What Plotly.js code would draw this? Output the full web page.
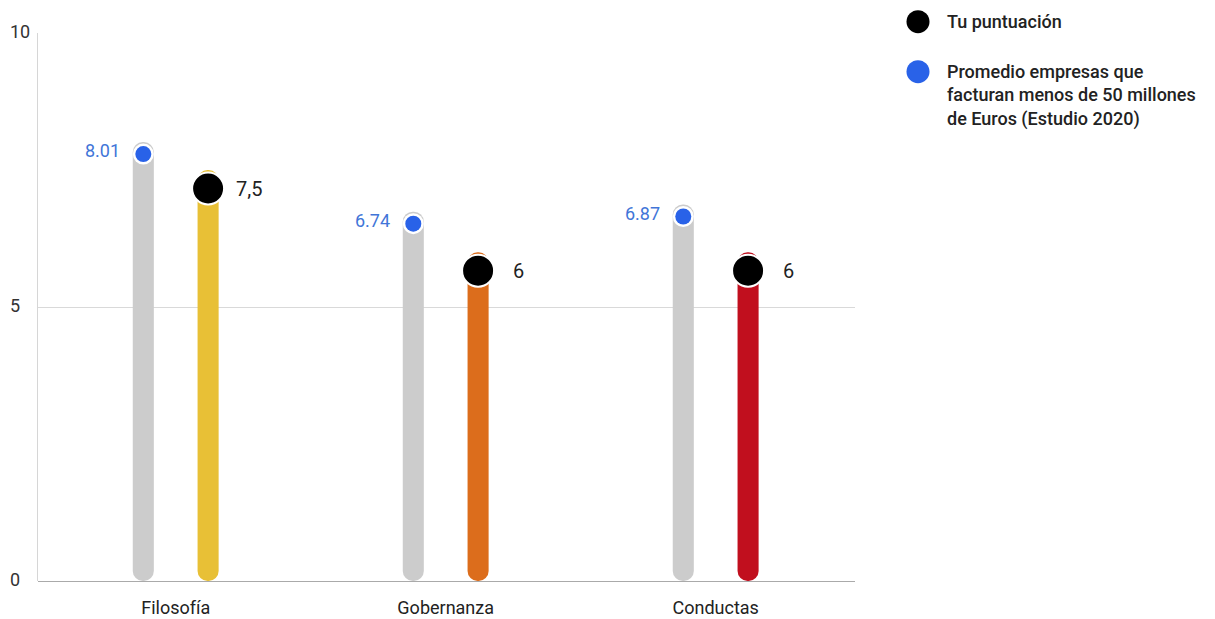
<!DOCTYPE html>
<html>
<head>
<meta charset="utf-8">
<script src="https://cdn.plot.ly/plotly-3.0.1.min.js"></script>
<style>html,body{margin:0;padding:0;background:#fff;}#chart{width:1215px;height:619px;}</style>
</head>
<body>
<div id="chart"></div>
<script>
// ---- data ----
const categories = ['Filosofía', 'Gobernanza', 'Conductas'];
const averageValues = [8.01, 6.74, 6.87];
const yourValues = [7.5, 6, 6];
const barColors = ['#E8C036', '#DC6D1C', '#C10F1E'];
const seriesNames = ['Tu puntuación', 'Promedio empresas que<br>facturan menos de 50 millones<br>de Euros (Estudio 2020)'];
const yTicks = [0, 5, 10];

// ---- styling constants ----
const GRAY = '#CCCCCC', BLUE = '#2962E8', BLUE_TEXT = '#4175D8', BLACK = '#000000';
const FONT = 'Roboto';
const M = {l: 38, r: 360, t: 33, b: 38};
const W = 1215, H = 619;
const PW = W - M.l - M.r, PH = H - M.t - M.b;
const OFF = 0.12, BW = 0.078;

const idx = categories.map((c, i) => i);
const xAvg = idx.map(i => i - OFF);
const xYou = idx.map(i => i + OFF);
const widths = idx.map(() => BW);

// rounded bars (explicit base -> both ends rounded)
function roundedBar(xs, vals, colors) {
  return {type: 'bar', x: xs, base: vals.map(() => 0), y: vals,
    width: widths, marker: {color: colors, cornerradius: '50%', line: {width: 0}},
    hoverinfo: 'skip', showlegend: false};
}
const traces = [
  roundedBar(xAvg, averageValues, idx.map(() => GRAY)),
  roundedBar(xYou, yourValues, barColors)
];

// dots (drawn at the data value, sitting inside the rounded bar end)
const shapes = [];
function dot(xa, ya, d, off, color) {
  return {type: 'circle', xref: 'x', yref: 'y', xsizemode: 'pixel', ysizemode: 'pixel',
    xanchor: xa, yanchor: ya, x0: -d / 2, x1: d / 2, y0: -off - d / 2, y1: -off + d / 2,
    fillcolor: color, line: {width: 0}, layer: 'above'};
}
idx.forEach(i => {
  shapes.push(dot(xAvg[i], averageValues[i], 21, 12, '#FFFFFF'));
  shapes.push(dot(xAvg[i], averageValues[i], 16, 12, BLUE));
  shapes.push(dot(xYou[i], yourValues[i], 34, 18.5, '#FFFFFF'));
  shapes.push(dot(xYou[i], yourValues[i], 30, 18.5, BLACK));
});

const annotations = [];
idx.forEach(i => {
  annotations.push({xref: 'x', yref: 'y', x: xAvg[i], y: averageValues[i],
    text: averageValues[i].toFixed(2), showarrow: false, xanchor: 'center', yanchor: 'middle',
    xshift: -41, yshift: -8.5, font: {family: FONT, size: 18, color: BLUE_TEXT}});
  annotations.push({xref: 'x', yref: 'y', x: xYou[i], y: yourValues[i],
    text: String(yourValues[i]).replace('.', ','), showarrow: false, xanchor: 'center', yanchor: 'middle',
    xshift: 40.5, yshift: -19.2, font: {family: FONT, size: 20, color: '#222222'}});
});

// y tick labels (left-aligned as in the reference)
const px = v => (v - M.l) / PW;
const py = v => (H - M.b - v) / PH;
yTicks.forEach(t => {
  annotations.push({xref: 'paper', yref: 'y', x: px(8), y: t, xanchor: 'left', yanchor: 'middle',
    yshift: 2, showarrow: false, text: String(t), font: {family: FONT, size: 18, color: '#333333'}});
});

// legend (custom, to match the large legend symbols)
const legendItems = [
  {name: seriesNames[0], color: BLACK, dotY: 21.7, textY: 21.7},
  {name: seriesNames[1], color: BLUE, dotY: 71.7, textY: 95.6}
];
legendItems.forEach(it => {
  shapes.push({type: 'circle', xref: 'paper', yref: 'paper', xsizemode: 'pixel', ysizemode: 'pixel',
    xanchor: px(918), yanchor: py(it.dotY), x0: -11.5, x1: 11.5, y0: -11.5, y1: 11.5,
    fillcolor: it.color, line: {width: 0}, layer: 'above'});
  annotations.push({xref: 'paper', yref: 'paper', x: px(945), y: py(it.textY),
    xanchor: 'left', yanchor: 'middle', align: 'left', showarrow: false, text: it.name,
    font: {family: FONT, size: 18, color: '#222222', weight: 500}});
});

const layout = {
  width: W, height: H,
  margin: M,
  paper_bgcolor: '#FFFFFF', plot_bgcolor: '#FFFFFF',
  font: {family: FONT, size: 18, color: '#333333'},
  barmode: 'overlay',
  showlegend: false,
  xaxis: {
    range: [-0.51, 2.516], tickvals: idx, ticktext: categories,
    showgrid: false, zeroline: false, showline: false, ticks: '',
    ticklabelstandoff: 14,
    tickfont: {family: FONT, size: 18, color: '#222222'},
    fixedrange: true
  },
  yaxis: {
    range: [0, 10], tickvals: yTicks, showticklabels: false,
    showgrid: true, gridcolor: '#D9D9D9', gridwidth: 1,
    zeroline: true, zerolinecolor: '#AAAAAA', zerolinewidth: 1,
    showline: true, linecolor: '#D6D6D6', linewidth: 1,
    ticks: '',
    fixedrange: true
  },
  shapes: shapes,
  annotations: annotations
};

Plotly.newPlot('chart', traces, layout, {displayModeBar: false, staticPlot: true});
</script>
</body>
</html>
